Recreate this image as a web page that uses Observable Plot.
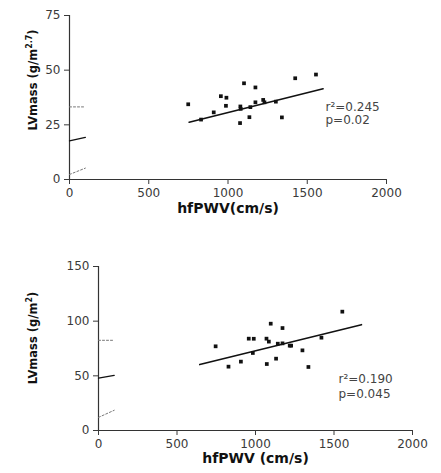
<!DOCTYPE html>
<html><head><meta charset="utf-8">
<script src="https://cdn.jsdelivr.net/npm/d3@7"></script>
<script src="https://cdn.jsdelivr.net/npm/@observablehq/plot@0.6"></script>
<style>body{margin:0;background:#fff;} svg{display:block;}</style>
</head><body><div id="c"></div>
<script>
// ---- Top panel data ----
const topX = [749, 830, 910, 955, 990, 987, 1076, 1078, 1080, 1101, 1135, 1141, 1173, 1173, 1222, 1230, 1302, 1340, 1424, 1555];
const topY = [34.4, 27.4, 30.7, 38.1, 37.4, 33.7, 25.8, 33.4, 32.3, 44.0, 28.5, 33.1, 42.1, 35.3, 36.4, 35.3, 35.6, 28.4, 46.3, 48.0];
const topFitX = [755, 1600];
const topFitY = [26.2, 41.5];
const topStubX = [0, 100];
const topStubFit = [17.7, 19.3];
const topStubUpper = [33.2, 33.2];
const topStubLower = [2.3, 5.2];
const topYTicks = [0, 25, 50, 75];
const topStats = "r²=0.245\np=0.02";
const topXLabel = "hfPWV(cm/s)";
const topYLabelMain = "LVmass (g/m";
const topYLabelSup = "2.7";

// ---- Bottom panel data ----
const botX = [746, 828, 907, 957, 983, 989, 1070, 1072, 1085, 1097, 1131, 1142, 1172, 1172, 1218, 1227, 1299, 1337, 1420, 1553];
const botY = [77.0, 58.4, 63.0, 84.0, 70.9, 83.9, 84.0, 60.8, 81.3, 97.7, 65.7, 79.4, 93.7, 79.7, 77.6, 77.6, 73.3, 58.1, 84.9, 108.7];
const botFitX = [645, 1675];
const botFitY = [60.3, 96.8];
const botStubX = [0, 100];
const botStubFit = [48.0, 50.5];
const botStubUpper = [82.5, 82.5];
const botStubLower = [12.0, 18.5];
const botYTicks = [0, 50, 100, 150];
const botStats = "r²=0.190\np=0.045";
const botXLabel = "hfPWV (cm/s)";
const botYLabelMain = "LVmass (g/m";
const botYLabelSup = "2";

const xTicks = [0, 500, 1000, 1500, 2000];

function pts(xs, ys) { return xs.map((x, i) => ({x, y: ys[i]})); }

function panel(o) {
  const svg = Plot.plot({
    width: 441, height: o.height,
    marginTop: o.mt, marginBottom: o.mb, marginLeft: o.ml, marginRight: o.mr,
    style: {fontFamily: "DejaVu Sans, sans-serif", fontSize: "12px", color: "#3a3a3a", background: "#fff"},
    x: {domain: [0, 2000]},
    y: {domain: o.ydomain},
    marks: [
      Plot.ruleX([0], {y1: o.ydomain[0], y2: o.ydomain[1], stroke: "#333", strokeWidth: 1.2}),
      Plot.ruleY([0], {x1: 0, x2: 2000, stroke: "#333", strokeWidth: 1.2}),
      Plot.axisX({ticks: xTicks, tickSize: 5, tickPadding: 4, label: null, tickFormat: d => String(d)}),
      Plot.axisY({ticks: o.yticks, tickSize: 5, tickPadding: 4, label: null, tickFormat: d => String(d)}),
      Plot.line(pts(o.stubX, o.stubUpper), {x: "x", y: "y", stroke: "#777", strokeWidth: 1, strokeDasharray: "2,2"}),
      Plot.line(pts(o.stubX, o.stubLower), {x: "x", y: "y", stroke: "#777", strokeWidth: 1, strokeDasharray: "2,2"}),
      Plot.line(pts(o.stubX, o.stubFit), {x: "x", y: "y", stroke: "#111", strokeWidth: 1.3}),
      Plot.line(pts(o.fitX, o.fitY), {x: "x", y: "y", stroke: "#111", strokeWidth: 1.6}),
      Plot.dot(pts(o.xs, o.ys), {x: "x", y: "y", symbol: "square", r: 2.1, fill: "#111", stroke: "none"}),
      Plot.text([o.stats], {text: d => d, frameAnchor: "top-left", dx: o.statDx, dy: o.statDy, textAnchor: "start", lineAnchor: "middle", lineHeight: o.statLH, fontSize: 12, fill: "#444"}),
      Plot.text([o.xlabel], {text: d => d, frameAnchor: "bottom", dy: o.xlabDy, fontSize: 14, fontWeight: "bold", fill: "#111"})
    ]
  });
  const t = d3.select(svg).append("text")
    .attr("transform", `translate(${o.ylabX},${o.ylabY}) rotate(-90)`)
    .attr("text-anchor", "middle")
    .attr("font-family", "DejaVu Sans, sans-serif")
    .attr("font-weight", "bold")
    .attr("font-size", 11.5)
    .attr("fill", "#111");
  t.append("tspan").text(o.ylabMain);
  t.append("tspan").attr("font-size", 8).attr("dy", -5).text(o.ylabSup);
  t.append("tspan").attr("dy", 5).text(")");
  return svg;
}

const c = document.getElementById("c");
c.appendChild(panel({
  height: 230, mt: 15, mb: 51, ml: 69, mr: 55, ydomain: [0, 75], yticks: topYTicks,
  xs: topX, ys: topY, fitX: topFitX, fitY: topFitY,
  stubX: topStubX, stubFit: topStubFit, stubUpper: topStubUpper, stubLower: topStubLower,
  stats: topStats, statDx: 256, statDy: 97.5, statLH: 1.1,
  xlabel: topXLabel, xlabDy: 33,
  ylabX: 37, ylabY: 80, ylabMain: topYLabelMain, ylabSup: topYLabelSup
}));
c.appendChild(panel({
  height: 243, mt: 36, mb: 43, ml: 98, mr: 29, ydomain: [0, 150], yticks: botYTicks,
  xs: botX, ys: botY, fitX: botFitX, fitY: botFitY,
  stubX: botStubX, stubFit: botStubFit, stubUpper: botStubUpper, stubLower: botStubLower,
  stats: botStats, statDx: 240, statDy: 119.5, statLH: 1.25,
  xlabel: botXLabel, xlabDy: 32,
  ylabX: 37, ylabY: 108, ylabMain: botYLabelMain, ylabSup: botYLabelSup
}));
</script></body></html>
